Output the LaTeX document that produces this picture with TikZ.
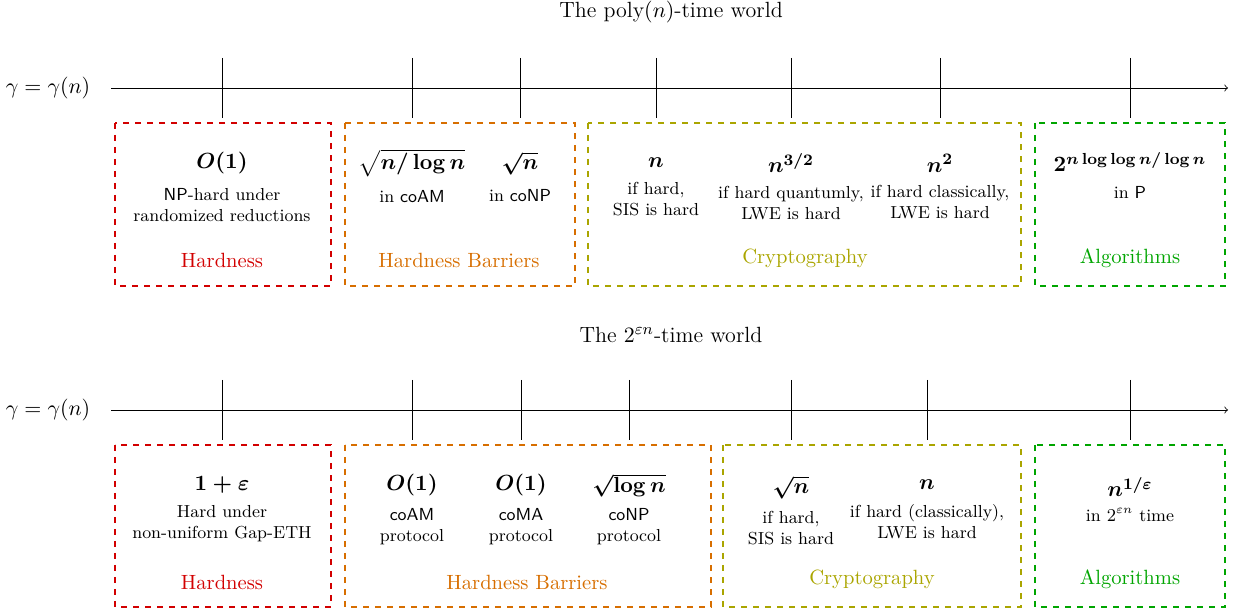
\documentclass[tikz,border=0pt]{standalone}
\usepackage{amsmath}
\definecolor{hardred}{RGB}{210,0,0}
\definecolor{barrorange}{RGB}{215,110,0}
\definecolor{cryptolive}{RGB}{170,165,0}
\definecolor{algogreen}{RGB}{0,165,0}
\tikzset{head node/.style={font=\fontsize{11}{13}\selectfont\boldmath,inner sep=1pt},
	sub node/.style={font=\fontsize{8.7}{10.5}\selectfont,align=center,inner sep=1pt},
	cat node/.style={font=\fontsize{10.3}{12}\selectfont,inner sep=1pt},
	cat box/.style={dashed,thick},
	world node/.style={font=\fontsize{11}{13}\selectfont},
}

\begin{document}
\begin{tikzpicture}[x=0.5pt,y=-0.5pt]
				\useasboundingbox (0,0) rectangle (1238,613);
				
				% the poly(n)-time world
				\node[world node] (W1) at (671,12) {The poly$(n)$-time world};
				\node[world node] (G1) at (48,88) {$\gamma=\gamma(n)$};
				\coordinate (S1) at (111,88);
				\coordinate (E1) at (1228,88);
				\draw[->] (S1) -- (E1);
				\foreach \x in {222,412,520,656,791,940,1130}
					\draw (\x,58) -- (\x,118);
				
				\draw[cat box,hardred] (115,123) rectangle (331,286);
				\draw[cat box,barrorange] (345,123) rectangle (575,286);
				\draw[cat box,cryptolive] (588,123) rectangle (1021,286);
				\draw[cat box,algogreen] (1035,123) rectangle (1225,286);
				
				\node[head node] (A1) at (222,163) {$O(1)$};
				\node[sub node] (A1t) at (222,205) {\textsf{NP}-hard under\\randomized reductions};
				\node[head node] (B1) at (412,163) {$\sqrt{n/\log n}$};
				\node[sub node] (B1t) at (412,197) {in \textsf{coAM}};
				\node[head node] (C1) at (520,163) {$\sqrt{n}$};
				\node[sub node] (C1t) at (520,196) {in \textsf{coNP}};
				\node[head node] (D1) at (656,163) {$n$};
				\node[sub node] (D1t) at (656,199) {if hard,\\SIS is hard};
				\node[head node] (E1n) at (791,163) {$n^{3/2}$};
				\node[sub node] (E1t) at (791,203) {if hard quantumly,\\LWE is hard};
				\node[head node] (F1) at (940,163) {$n^2$};
				\node[sub node] (F1t) at (940,202) {if hard classically,\\LWE is hard};
				\node[head node] (H1) at (1130,162) {$2^{n\log\log n/\log n}$};
				\node[sub node] (H1t) at (1130,192) {in \textsf{P}};
				
				\node[cat node,text=hardred] (K1) at (222,260) {Hardness};
				\node[cat node,text=barrorange] (L1) at (459,260) {Hardness Barriers};
				\node[cat node,text=cryptolive] (M1) at (805,258) {Cryptography};
				\node[cat node,text=algogreen] (N1) at (1130,258) {Algorithms};
				
				% the 2^{eps n}-time world
				\node[world node] (W2) at (671,335) {The $2^{\varepsilon n}$-time world};
				\node[world node] (G2) at (48,410) {$\gamma=\gamma(n)$};
				\coordinate (S2) at (111,410);
				\coordinate (E2) at (1228,410);
				\draw[->] (S2) -- (E2);
				\foreach \x in {222,412,521,629,791,927,1130}
					\draw (\x,380) -- (\x,440);
				
				\draw[cat box,hardred] (115,445) rectangle (331,607);
				\draw[cat box,barrorange] (345,445) rectangle (711,607);
				\draw[cat box,cryptolive] (723,445) rectangle (1021,607);
				\draw[cat box,algogreen] (1035,445) rectangle (1225,607);
				
				\node[head node] (A2) at (222,485) {$1+\varepsilon$};
				\node[sub node] (A2t) at (222,524) {Hard under\\non-uniform Gap-ETH};
				\node[head node] (B2) at (412,485) {$O(1)$};
				\node[sub node] (B2t) at (412,527) {\textsf{coAM}\\protocol};
				\node[head node] (C2) at (521,485) {$O(1)$};
				\node[sub node] (C2t) at (521,527) {\textsf{coMA}\\protocol};
				\node[head node] (D2) at (629,485) {$\sqrt{\log n}$};
				\node[sub node] (D2t) at (629,527) {\textsf{coNP}\\protocol};
				\node[head node] (E2n) at (791,487) {$\sqrt{n}$};
				\node[sub node] (E2t) at (791,528) {if hard,\\SIS is hard};
				\node[head node] (F2) at (927,485) {$n$};
				\node[sub node] (F2t) at (927,522) {if hard (classically),\\LWE is hard};
				\node[head node] (H2) at (1130,487) {$n^{1/\varepsilon}$};
				\node[sub node] (H2t) at (1130,515) {in $2^{\varepsilon n}$ time};
				
				\node[cat node,text=hardred] (K2) at (222,582) {Hardness};
				\node[cat node,text=barrorange] (L2) at (527,582) {Hardness Barriers};
				\node[cat node,text=cryptolive] (M2) at (872,579) {Cryptography};
				\node[cat node,text=algogreen] (N2) at (1130,579) {Algorithms};
				
			\end{tikzpicture}
\end{document}
